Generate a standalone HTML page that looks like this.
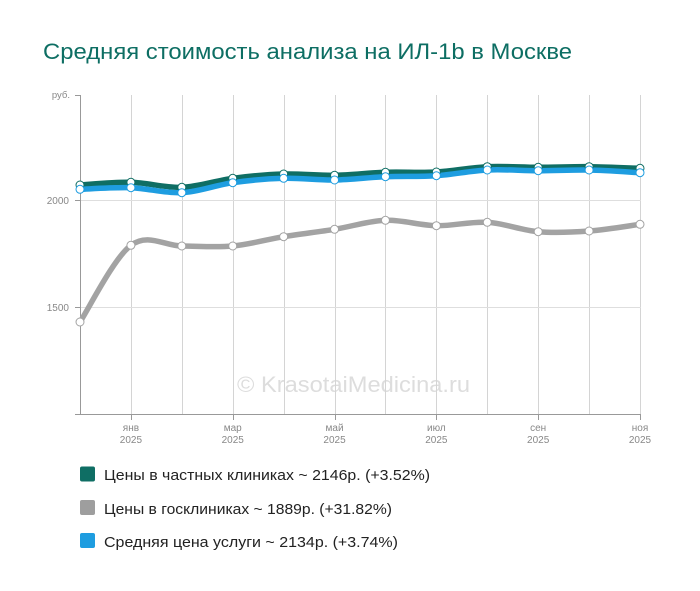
<!DOCTYPE html>
<html>
<head>
<meta charset="utf-8">
<style>
  html,body{margin:0;padding:0;background:#fff;}
  svg{display:block;}
  text{font-family:"Liberation Sans","DejaVu Sans",sans-serif;}
</style>
</head>
<body>
<svg id="c" width="700" height="591" viewBox="0 0 700 591" xmlns="http://www.w3.org/2000/svg">
  <rect width="700" height="591" fill="#fff"/>
  <text x="43" y="59" font-size="22" fill="#0d6e63" textLength="529" lengthAdjust="spacingAndGlyphs">Средняя стоимость анализа на ИЛ-1b в Москве</text>

  <text x="237" y="392" font-size="22" fill="#dddddd" textLength="233" lengthAdjust="spacingAndGlyphs">© KrasotaiMedicina.ru</text>

  <g id="grid" stroke="#d4d4d4" stroke-width="1"></g>
  <line x1="80" y1="200.5" x2="641" y2="200.5" stroke="#dedede" stroke-width="1"/>
  <line x1="80" y1="307.5" x2="641" y2="307.5" stroke="#dedede" stroke-width="1"/>

  <!-- axes -->
  <line x1="80.5" y1="95" x2="80.5" y2="414" stroke="#999" stroke-width="1"/>
  <line x1="75" y1="414.5" x2="641" y2="414.5" stroke="#999" stroke-width="1"/>
  <line x1="75" y1="95.5" x2="80" y2="95.5" stroke="#999"/>
  <line x1="75" y1="200.5" x2="80" y2="200.5" stroke="#999"/>
  <line x1="75" y1="307.5" x2="80" y2="307.5" stroke="#999"/>
  <g id="xticks" stroke="#999"></g>

  <g font-size="10" fill="#888" text-anchor="end">
    <text x="70" y="98" font-size="9.5">руб.</text>
    <text x="69" y="204">2000</text>
    <text x="69" y="311">1500</text>
  </g>
  <g id="xlabels" font-size="10" fill="#888" text-anchor="middle"></g>

  <g id="series"></g>

  <!-- legend -->
  <rect x="80" y="466.5" width="15" height="15" rx="2" fill="#0f6e64"/>
  <rect x="80" y="500" width="15" height="15" rx="2" fill="#9e9e9e"/>
  <rect x="80" y="533" width="15" height="15" rx="2" fill="#1e9de0"/>
  <g font-size="15" fill="#222">
    <text x="104" y="480" textLength="326" lengthAdjust="spacingAndGlyphs">Цены в частных клиниках ~ 2146р. (+3.52%)</text>
    <text x="104" y="514" textLength="288" lengthAdjust="spacingAndGlyphs">Цены в госклиниках ~ 1889р. (+31.82%)</text>
    <text x="104" y="547" textLength="294" lengthAdjust="spacingAndGlyphs">Средняя цена услуги ~ 2134р. (+3.74%)</text>
  </g>
</svg>
<script>
(function(){
  var NS="http://www.w3.org/2000/svg";
  function el(tag, attrs, parent){var e=document.createElementNS(NS,tag);for(var k in attrs)e.setAttribute(k,attrs[k]);parent.appendChild(e);return e;}
  var xs=[];for(var i=0;i<12;i++)xs.push(80+i*(560/11));
  var grid=document.getElementById('grid');
  for(var i=1;i<12;i++){var x=Math.round(xs[i])+0.5;el('line',{x1:x,y1:95,x2:x,y2:414},grid);}
  var xt=document.getElementById('xticks'), xl=document.getElementById('xlabels');
  var months=['янв','мар','май','июл','сен','ноя'];
  for(var j=0;j<6;j++){var i=1+2*j;var x=Math.round(xs[i])+0.5;
    el('line',{x1:x,y1:414,x2:x,y2:420},xt);
    var t=el('text',{x:xs[i],y:431},xl);t.textContent=months[j];
    var t2=el('text',{x:xs[i],y:443},xl);t2.textContent='2025';
  }
  var teal=[185,182.3,187.3,178.3,174,175.3,172.3,172,166.7,167.3,166.7,168.3];
  var blue=[189.3,187.7,192.7,182.7,178.3,180,176.7,175.7,170,170.7,170,172.7];
  var gray=[322,245.3,246,246,236.7,229.3,220.3,225.7,222.3,231.7,231,224.3];
  function spline(ys){
    var p=xs.map(function(x,i){return {x:x,y:ys[i]};});
    var n=p.length, d='M'+p[0].x.toFixed(2)+' '+p[0].y.toFixed(2);
    var t=1/6;
    for(var i=0;i<n-1;i++){
      var p0=p[i>0?i-1:0],p1=p[i],p2=p[i+1],p3=p[i+2<n?i+2:n-1];
      var c1x=p1.x+(p2.x-p0.x)*t,c1y=p1.y+(p2.y-p0.y)*t;
      var c2x=p2.x-(p3.x-p1.x)*t,c2y=p2.y-(p3.y-p1.y)*t;
      d+=' C'+c1x.toFixed(2)+' '+c1y.toFixed(2)+' '+c2x.toFixed(2)+' '+c2y.toFixed(2)+' '+p2.x.toFixed(2)+' '+p2.y.toFixed(2);
    }
    return d;
  }
  var s=document.getElementById('series');
  var defs=[[gray,'#a3a3a3'],[teal,'#0f6e64'],[blue,'#1e9de0']];
  defs.forEach(function(dd){el('path',{d:spline(dd[0]),fill:'none',stroke:dd[1],'stroke-width':5.5,'stroke-linejoin':'round','stroke-linecap':'round'},s);});
  defs.forEach(function(dd){
    dd[0].forEach(function(y,i){el('circle',{cx:xs[i],cy:y,r:4,fill:'#fff',stroke:dd[1],'stroke-width':1},s);});
  });
})();
</script>
</body>
</html>
